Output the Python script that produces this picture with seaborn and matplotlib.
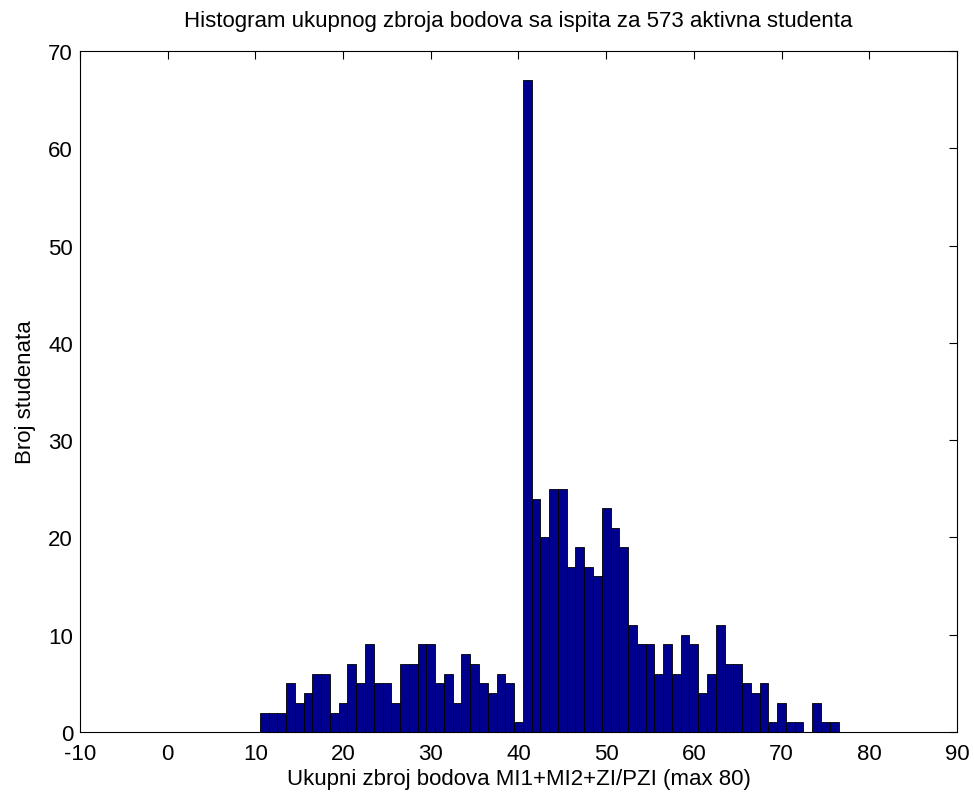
import numpy as np
import pandas as pd
import matplotlib
matplotlib.use("Agg")
import matplotlib.pyplot as plt
import seaborn as sns

# bin centres (width 1) and student counts
scores = list(range(-10, 81))
counts_11_76 = [2, 2, 2, 5, 3, 4, 6, 6, 2, 3,      # 11-20
                7, 5, 9, 5, 5, 3, 7, 7, 9, 9,      # 21-30
                5, 6, 3, 8, 7, 5, 4, 6, 5, 1,      # 31-40
                67, 24, 20, 25, 25, 17, 19, 17, 16, 23,  # 41-50
                21, 19, 11, 9, 9, 6, 9, 6, 10, 9,  # 51-60
                4, 6, 11, 7, 7, 5, 4, 5, 1, 3,     # 61-70
                1, 1, 0, 3, 1, 1]                  # 71-76
counts = [0] * 21 + counts_11_76 + [0] * 4

df = pd.DataFrame({"bodovi": scores, "broj": counts})

sns.set_theme(style="white")
plt.rcParams["font.family"] = ["Liberation Sans", "DejaVu Sans"]
plt.rcParams["axes.unicode_minus"] = False
plt.rcParams["text.color"] = "black"
plt.rcParams["axes.labelcolor"] = "black"

fig = plt.figure(figsize=(9.74, 8.03), dpi=100)
ax = fig.add_axes([0.0821, 0.0872, 0.9004, 0.848])

sns.histplot(data=df, x="bodovi", weights="broj", binwidth=1,
             binrange=(-10.5, 80.5), ax=ax,
             color="#00008f", edgecolor="black", linewidth=0.6, alpha=1)

ax.set_xlim(-10, 90)
ax.set_ylim(0, 70)
ax.set_xticks(range(-10, 91, 10))
ax.set_yticks(range(0, 71, 10))
ax.tick_params(direction="in", length=6, width=0.8, top=True, right=True,
               labelsize=16, colors="black")
ax.tick_params(axis="x", pad=8)
ax.tick_params(axis="y", pad=5)
for s in ax.spines.values():
    s.set_visible(True)
    s.set_color("black")
    s.set_linewidth(0.8)

ax.set_title("Histogram ukupnog zbroja bodova sa ispita za 573 aktivna studenta",
             fontsize=16, pad=18, color="black")
ax.set_xlabel("Ukupni zbroj bodova MI1+MI2+ZI/PZI (max 80)", fontsize=16, labelpad=3)
ax.set_ylabel("Broj studenata", fontsize=16, labelpad=9)

fig.savefig("out.png", dpi=100)
